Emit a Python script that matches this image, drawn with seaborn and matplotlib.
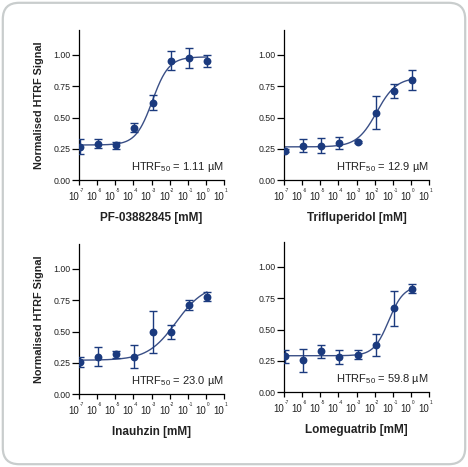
import numpy as np
import pandas as pd
import matplotlib
matplotlib.use("Agg")
import matplotlib.pyplot as plt
from matplotlib.patches import FancyBboxPatch
from matplotlib.transforms import blended_transform_factory, offset_copy
import seaborn as sns

# ---------------- data ----------------
conc_mM = [1.15e-7, 1.15e-6, 1.15e-5, 1.15e-4, 1.15e-3, 1.15e-2, 1.15e-1, 1.15e0]

compounds = ["PF-03882845", "Trifluperidol", "Inauhzin", "Lomeguatrib"]

pf_mean = [0.267, 0.290, 0.277, 0.420, 0.620, 0.955, 0.980, 0.952]
pf_err = [0.060, 0.035, 0.030, 0.035, 0.063, 0.075, 0.080, 0.050]

tri_mean = [0.236, 0.276, 0.273, 0.295, 0.303, 0.540, 0.710, 0.800]
tri_err = [0.010, 0.050, 0.060, 0.050, 0.010, 0.135, 0.055, 0.080]

ina_mean = [0.259, 0.300, 0.317, 0.300, 0.497, 0.497, 0.709, 0.778]
ina_err = [0.040, 0.075, 0.025, 0.090, 0.170, 0.055, 0.040, 0.037]

lom_mean = [0.285, 0.253, 0.325, 0.283, 0.299, 0.379, 0.672, 0.827]
lom_err = [0.053, 0.095, 0.052, 0.055, 0.036, 0.088, 0.140, 0.037]

# four-parameter logistic fit parameters (bottom, top, EC50 in mM, hill)
fit_bottom = [0.280, 0.265, 0.270, 0.290]
fit_top = [0.985, 0.820, 0.880, 0.850]
fit_ec50_mM = [1.11e-3, 12.9e-3, 23.0e-3, 59.8e-3]
fit_hill = [0.95, 0.80, 0.55, 1.05]
ec50_labels = ["1.11", "12.9", "23.0", "59.8"]

means = [pf_mean, tri_mean, ina_mean, lom_mean]
errs = [pf_err, tri_err, ina_err, lom_err]

x_tick_exps = [-7, -6, -5, -4, -3, -2, -1, 0, 1]
y_ticks = [0.0, 0.25, 0.5, 0.75, 1.0]

# ---------------- style ----------------
sns.set_style("white")
plt.rcParams["font.family"] = ["Liberation Sans", "DejaVu Sans"]
plt.rcParams["mathtext.fontset"] = "custom"
plt.rcParams["mathtext.rm"] = "Liberation Sans"
plt.rcParams["mathtext.it"] = "Liberation Sans"

navy = "#1b3a7e"
curve_col = "#3a4f86"
txt_col = "#222222"

fig = plt.figure(figsize=(4.68, 4.67), dpi=100)
fig.patch.set_facecolor("white")

# rounded frame
frame = FancyBboxPatch((0.006, 0.006), 0.988, 0.988,
                       boxstyle="round,pad=0,rounding_size=0.035",
                       transform=fig.transFigure, facecolor="none",
                       edgecolor="#c9cdcd", linewidth=1.6, zorder=-5)
fig.patches.append(frame)

W, H = 468, 467
ax_w = 145 / W
ax_h = 150 / H
positions = [
    (79 / W, (H - 180) / H),
    (284 / W, (H - 180) / H),
    (79 / W, (H - 394) / H),
    (284 / W, (H - 392) / H),
]

for i, name in enumerate(compounds):
    ax = fig.add_axes([positions[i][0], positions[i][1], ax_w, ax_h])
    ax.set_facecolor("none")
    df = pd.DataFrame({"conc": conc_mM, "signal": means[i], "err": errs[i]})

    xs = np.logspace(-7, np.log10(conc_mM[-1]), 300)
    ys = fit_bottom[i] + (fit_top[i] - fit_bottom[i]) / (1 + (fit_ec50_mM[i] / xs) ** fit_hill[i])
    curve = pd.DataFrame({"conc": xs, "signal": ys})
    sns.lineplot(data=curve, x="conc", y="signal", ax=ax, color=curve_col,
                 linewidth=1.0, zorder=2)

    ax.errorbar(df["conc"], df["signal"], yerr=df["err"], fmt="none",
                ecolor=navy, elinewidth=1.0, capsize=3.2, capthick=1.0, zorder=3)
    sns.scatterplot(data=df, x="conc", y="signal", ax=ax, color=navy,
                    s=32, edgecolor=navy, linewidth=0, zorder=4)

    ax.set_xscale("log")
    ax.set_xlim(1e-7, 1e1)
    ax.set_ylim(0, 1.2)
    tick_vals = [10.0 ** e for e in x_tick_exps]
    ax.set_xticks(tick_vals)
    ax.set_xticklabels(["10"] * len(x_tick_exps), ha="right")
    ax.minorticks_off()
    ax.set_yticks(y_ticks)
    ax.set_yticklabels(["%.2f" % v for v in y_ticks])

    # tiny superscript exponents next to each "10"
    base_tr = blended_transform_factory(ax.transData, ax.transAxes)
    exp_tr = offset_copy(base_tr, fig=fig, x=0.4, y=-7.2, units="points")
    for e, v in zip(x_tick_exps, tick_vals):
        ax.text(v, 0, str(e), transform=exp_tr, ha="left", va="center",
                fontsize=3.4, color=txt_col, clip_on=False)

    for s in ["top", "right"]:
        ax.spines[s].set_visible(False)
    for s in ["left", "bottom"]:
        ax.spines[s].set_color("black")
        ax.spines[s].set_linewidth(0.9)

    ax.tick_params(axis="y", direction="out", length=5, width=0.9, pad=1,
                   labelsize=6.3, colors="black", labelcolor=txt_col, left=True)
    ax.tick_params(axis="x", direction="out", length=3.8, width=0.9, pad=5,
                   labelsize=7.0, colors="black", labelcolor=txt_col, bottom=True)

    ax.set_xlabel(f"{name} [mM]", fontsize=8.5, fontweight="bold",
                  color=txt_col, labelpad=7)
    if i % 2 == 0:
        ax.set_ylabel("Normalised HTRF Signal", fontsize=7.8, fontweight="bold",
                      color=txt_col, labelpad=7)
    else:
        ax.set_ylabel("")

    ax.text(1.0, 0.085, r"HTRF$_{50}$ = " + ec50_labels[i] + " µM",
            transform=ax.transAxes, ha="right", va="center",
            fontsize=8.0, color=txt_col)

fig.savefig("out.png", dpi=100, facecolor="white")
